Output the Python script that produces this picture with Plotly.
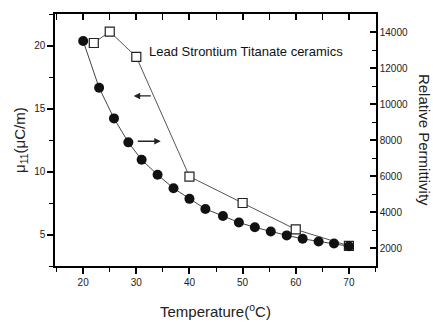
import plotly.graph_objects as go

# Data
temp_sq = [22, 25, 30, 40, 50, 60, 70]
mu11 = [20.2, 21.1, 19.1, 9.6, 7.5, 5.4, 4.1]

temp_circ = [20, 23, 25.8, 28.5, 31, 34, 37, 40, 43, 46.3, 49.3, 52.3, 55.3, 58.3, 61.3, 64.3, 67.2, 70]
permittivity = [13500, 10900, 9200, 7870, 6900, 6070, 5320, 4730, 4170, 3780, 3420, 3150,
                2920, 2700, 2510, 2360, 2250, 2100]

x_ticks = [20, 30, 40, 50, 60, 70]
left_ticks = [5, 10, 15, 20]
right_ticks = [2000, 4000, 6000, 8000, 10000, 12000, 14000]

x_range = [14.7, 75.1]
font_family = "Liberation Sans, Arial, sans-serif"

fig = go.Figure()

fig.add_trace(go.Scatter(
    x=temp_circ, y=permittivity, yaxis="y2", mode="lines+markers",
    line=dict(color="#444", width=1),
    marker=dict(symbol="circle", size=10, color="#111"),
    showlegend=False, hoverinfo="skip"))

fig.add_trace(go.Scatter(
    x=temp_sq, y=mu11, mode="lines+markers",
    line=dict(color="#555", width=1),
    marker=dict(symbol="square", size=9, color="white", line=dict(color="#222", width=1.2)),
    showlegend=False, hoverinfo="skip"))

# dummy trace for the top mirror axis
fig.add_trace(go.Scatter(x=[None], y=[None], xaxis="x2", showlegend=False, hoverinfo="skip"))

axis_common = dict(showgrid=False, zeroline=False, showline=True, linecolor="black",
                   linewidth=1.5, tickcolor="black", tickwidth=1.5, automargin=False,
                   tickfont=dict(family=font_family, size=10, color="#222"))

fig.update_layout(
    width=433, height=322,
    margin=dict(l=55, r=57, t=14, b=56),
    plot_bgcolor="white", paper_bgcolor="white",
    font=dict(family=font_family, color="#222"),
    xaxis=dict(range=x_range, tickvals=x_ticks, ticks="outside", ticklen=6,
               minor=dict(dtick=5, tick0=0, ticks="outside", ticklen=4, tickcolor="black", tickwidth=1.2),
               **axis_common),
    xaxis2=dict(range=x_range, overlaying="x", side="top", anchor="y", showticklabels=False,
                tickvals=x_ticks, ticks="inside", ticklen=6,
                minor=dict(dtick=5, tick0=0, ticks="inside", ticklen=6, tickcolor="black", tickwidth=1.2),
                **axis_common),
    yaxis=dict(range=[2.5, 22.5], tickvals=left_ticks, ticks="outside", ticklen=6,
               minor=dict(dtick=2.5, tick0=0, ticks="outside", ticklen=4, tickcolor="black", tickwidth=1.2),
               **axis_common),
    yaxis2=dict(range=[1000, 15000], overlaying="y", side="right", anchor="x",
                tickvals=right_ticks, tickformat="d", ticks="inside", ticklen=6,
                minor=dict(dtick=1000, tick0=0, ticks="inside", ticklen=4, tickcolor="black", tickwidth=1.2),
                **axis_common),
)

title_font = dict(family=font_family, size=15, color="#222")

fig.add_annotation(x=0.5, y=-0.176, xref="paper", yref="paper", text="Temperature(<sup>o</sup>C)",
                   showarrow=False, xanchor="center", yanchor="middle", font=title_font)
fig.add_annotation(x=-0.109, y=0.5, xref="paper", yref="paper", text="μ<sub>11</sub>(μC/m)",
                   showarrow=False, textangle=-90, xanchor="center", yanchor="middle", font=title_font)
fig.add_annotation(x=1.153, y=0.5, xref="paper", yref="paper", text="Relative Permittivity",
                   showarrow=False, textangle=90, xanchor="center", yanchor="middle", font=title_font)

fig.add_annotation(x=32, y=19.5, xref="x", yref="y", text="Lead Strontium Titanate ceramics",
                   showarrow=False, xanchor="left", yanchor="middle",
                   font=dict(family=font_family, size=13, color="#111"))

# arrows indicating axes
fig.add_annotation(x=29.5, y=16.0, ax=33, ay=16.0, xref="x", yref="y", axref="x", ayref="y",
                   text="", showarrow=True, arrowhead=2, arrowsize=1, arrowwidth=1.3, arrowcolor="#222")
fig.add_annotation(x=34.6, y=12.4, ax=30, ay=12.4, xref="x", yref="y", axref="x", ayref="y",
                   text="", showarrow=True, arrowhead=2, arrowsize=1, arrowwidth=1.3, arrowcolor="#222")

fig.write_html("out.html")
